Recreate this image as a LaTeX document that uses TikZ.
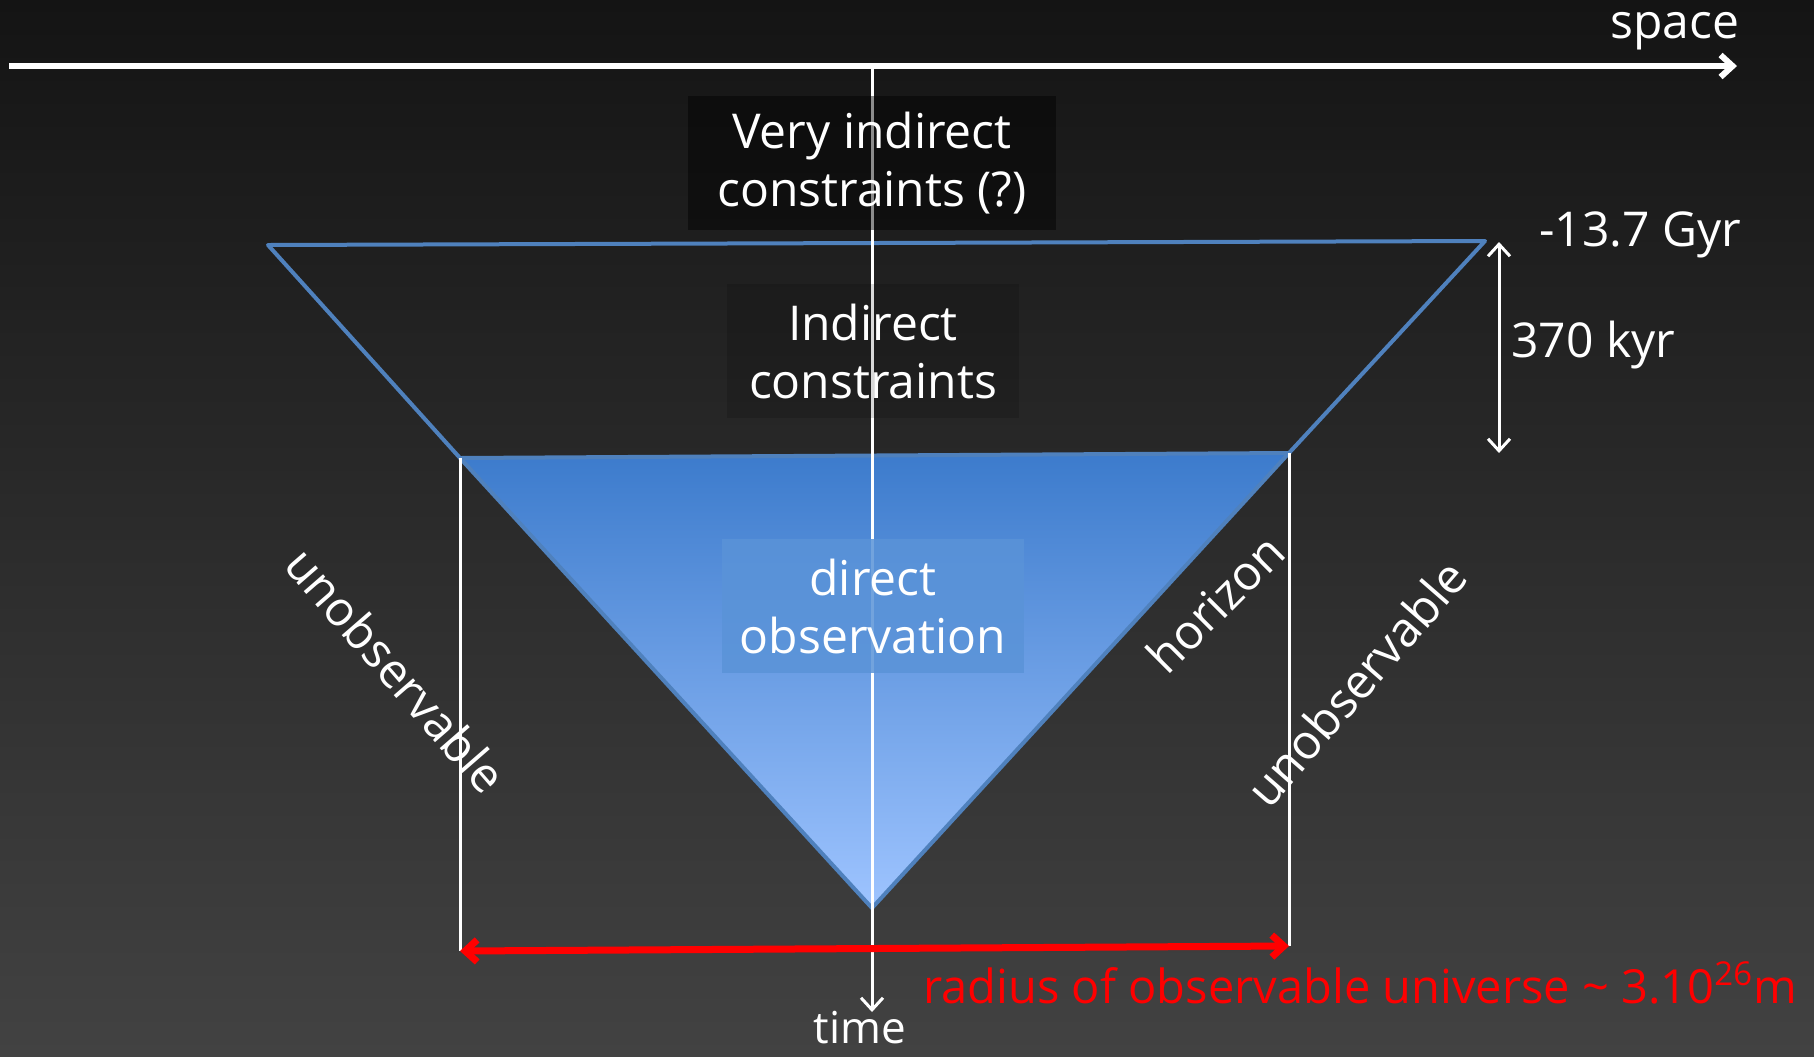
\documentclass[tikz,border=0pt]{standalone}
\usepackage{fontspec}
\setmainfont{Open Sans}
\usetikzlibrary{arrows.meta,positioning}
\definecolor{bgtop}{HTML}{141414}
\definecolor{bgbot}{HTML}{424242}
\definecolor{edgeblue}{HTML}{4F81BD}
\definecolor{tritop}{HTML}{3C7BCC}
\definecolor{tribot}{HTML}{9EC4FF}
\definecolor{dirbox}{HTML}{5A93D8}
\begin{document}
\begin{tikzpicture}[x=0.5pt, y=-0.5pt,
  word/.style={text=white, font=\fontsize{24}{29}\selectfont, inner sep=0pt},
  txt/.style={word, align=center},
  cbox/.style={txt, minimum width=#1, minimum height=67pt, text opacity=1},
  edge/.style={draw=edgeblue, line width=2pt, line join=round},
  wline/.style={white, line width=1.5pt},
  arr/.style={white, line width=1.5pt, -{Straight Barb[length=6pt, width=11pt]}},
  dbl/.style={line width=#1, {Straight Barb[length=6pt, width=11pt]}-{Straight Barb[length=6pt, width=11pt]}}]
\fill[top color=bgtop, bottom color=bgbot] (0,0) rectangle (1814,1056);
\coordinate (tl) at (268,245);
\coordinate (tr) at (1485,241);
\coordinate (ml) at (460,458);
\coordinate (mr) at (1289,453);
\coordinate (apex) at (872,908);
\coordinate (bl) at (460,951);
\coordinate (br) at (1289,946);
\coordinate (s0) at (9,66);
\coordinate (s1) at (1737,66);
\coordinate (t0) at (872,66);
\coordinate (t1) at (872,1012);
\coordinate (k0) at (1499,242);
\coordinate (k1) at (1499,453);
\draw[edge] (ml) -- (tl) -- (tr) -- (mr);
\shade[top color=tritop, bottom color=tribot] (ml) -- (mr) -- (apex) -- cycle;
\draw[edge] (ml) -- (mr) -- (apex) -- cycle;
\draw[wline] (ml) -- (bl);
\draw[wline] (mr) -- (br);
\draw[arr] (t0) -- (t1);
\node[cbox=184pt, fill=black, fill opacity=0.45] (veryind) at (872,163) {Very indirect\\constraints (?)};
\node[cbox=146pt, fill=black, fill opacity=0.15] (indirect) at (873,351) {Indirect\\constraints};
\node[cbox=151pt, fill=dirbox, fill opacity=0.85] (direct) at (873,606) {direct\\observation};
\draw[arr, line width=3pt] (s0) -- (s1);
\draw[dbl=3.5pt, red] (bl) -- (br);
\draw[dbl=1.5pt, white] (k0) -- (k1);
\node[word, anchor=base] (space) at (1675,38) {space};
\node[word, anchor=base, font=\fontsize{22}{26}\selectfont] (time) at (860,1043) {time};
\node[txt] (gyr) at (1640,235) {-13.7 Gyr};
\node[txt, anchor=west] (kyr) at (1511,345) {370 kyr};
\node[txt, rotate=-49] (unobsl) at (396,670) {unobservable};
\node[txt, rotate=45] (horizon) at (1215,603) {horizon};
\node[txt, rotate=49] (unobsr) at (1356,683) {unobservable};
\node[txt, text=red, anchor=west, font=\fontsize{23.5}{28}\selectfont] (radius) at (923,983) {radius of observable universe \textasciitilde{} 3.10\textsuperscript{26}m};
\end{tikzpicture}
\end{document}
